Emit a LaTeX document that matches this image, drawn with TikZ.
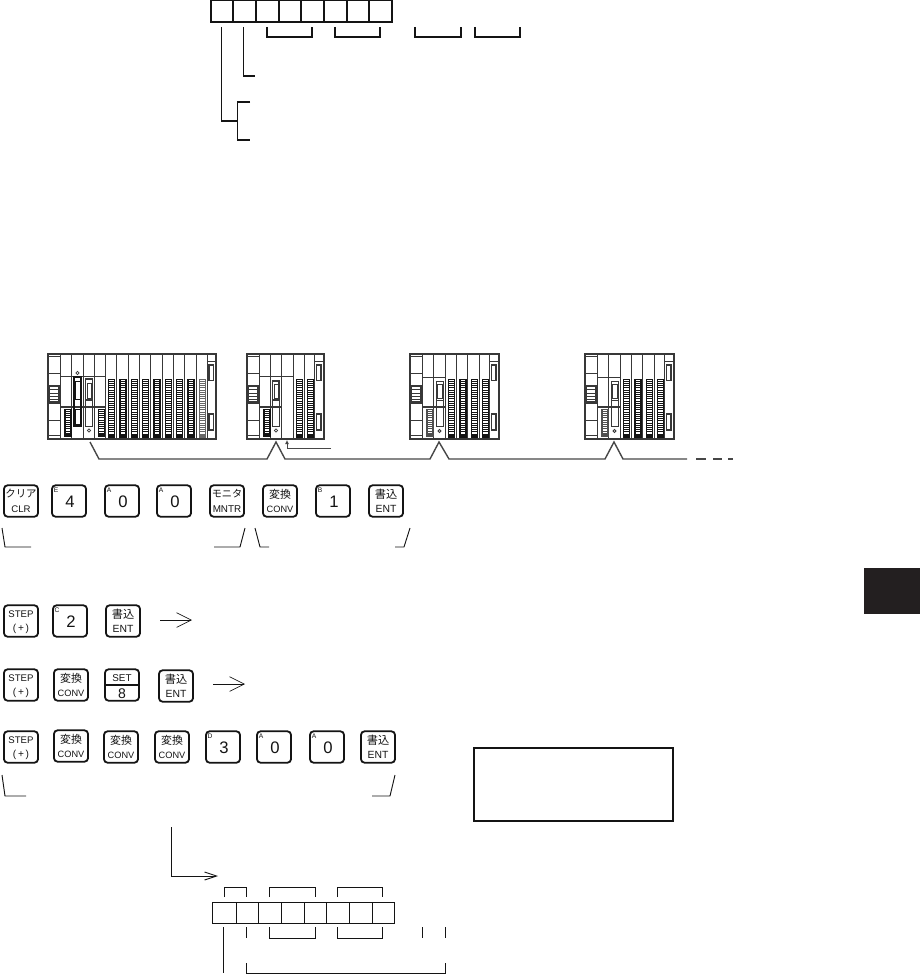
\documentclass[tikz,border=0pt]{standalone}
\usepackage{fontspec}
\usetikzlibrary{arrows.meta,calc}
\setmainfont{Liberation Sans}
\newfontfamily\jpfont{Noto Sans CJK JP}
\definecolor{ink}{gray}{0.08}
\definecolor{wire}{gray}{0.28}
\definecolor{tabcol}{HTML}{231F20}
\tikzset{
  line/.style={draw=ink,line width=0.85pt},
  thin line/.style={draw=ink,line width=0.7pt},
  keycap/.style={draw=ink,line width=1.35pt,rounded corners=2.6pt,minimum width=25.5pt,minimum height=23.5pt,inner sep=0pt,fill=white},
  keytxt/.style={inner sep=0pt,text=ink},
  rackln/.style={draw=ink!85,line width=0.6pt},
  wireln/.style={draw=wire,line width=1.05pt},
}
% two-line key: name, x, y, top text, bottom text
\newcommand{\keytwo}[5]{%
  \node[keycap] (#1) at (#2,#3) {};
  \node[keytxt] (#1t) at ($(#2,#3)+(0,-7)$) {#4};
  \node[keytxt] (#1b) at ($(#2,#3)+(0,8)$) {#5};
}
% digit key: name, x, y, corner letter, digit
\newcommand{\keydig}[5]{%
  \node[keycap] (#1) at (#2,#3) {};
  \node[keytxt,font=\fontsize{5}{6}\selectfont] (#1c) at ($(#2,#3)+(-13,-11)$) {#4};
  \node[keytxt,font=\fontsize{12.5}{13}\selectfont] (#1d) at ($(#2,#3)+(1,1)$) {#5};
}
\newcommand{\kclr}{{\jpfont\fontsize{7.8}{8}\selectfont クリア}}
\newcommand{\kmon}{{\jpfont\fontsize{7.6}{8}\selectfont モニタ}}
\newcommand{\kcnv}{{\jpfont\fontsize{8.2}{8}\selectfont 変換}}
\newcommand{\kwrt}{{\jpfont\fontsize{8.4}{8}\selectfont 書込}}
\newcommand{\lclr}{{\fontsize{7.2}{8}\selectfont CLR}}
\newcommand{\lmon}{{\fontsize{7.4}{8}\selectfont MNTR}}
\newcommand{\lcnv}{{\fontsize{6.9}{8}\selectfont CONV}}
\newcommand{\lent}{{\fontsize{7.8}{8}\selectfont ENT}}
\newcommand{\lstp}{{\fontsize{7.2}{8}\selectfont STEP}}
\newcommand{\lplus}{{\fontsize{7.6}{8}\selectfont (\,+\,)}}
\newcommand{\stepkey}[3]{\keytwo{#1}{#2}{#3}{\lstp}{\lplus}}
\newcommand{\cnvkey}[3]{\keytwo{#1}{#2}{#3}{\kcnv}{\lcnv}}
\newcommand{\entkey}[3]{\keytwo{#1}{#2}{#3}{\kwrt}{\lent}}
% comb terminal at local x, from y1 to y2
\newcommand{\comb}[4][ink]{%
  \draw[#1,line width=0.5pt] (#2,#3) rectangle (#2+6.5,#4);
  \draw[#1,line width=1pt] (#2+0.4,#3) -- (#2+0.4,#4);
  \draw[#1,line width=0.7pt] (#2+6.2,#3) -- (#2+6.2,#4);
  \pgfmathsetmacro{\ys}{#3+2.2}
  \pgfmathsetmacro{\yn}{#3+4.4}
  \foreach \yy in {\ys,\yn,...,#4} {\draw[#1,line width=0.7pt] (#2,\yy) -- (#2+6.5,\yy);}
  \fill[#1] (#2+1,#4-3.5) rectangle (#2+6.5,#4);
}
% rack frame: width, left block width, list of slot boundaries
\newcommand{\rackframe}[3]{%
  \draw[rackln,line width=0.85pt] (0,0) rectangle (#1,85);
  \draw[rackln] (#2,0) -- (#2,85);
  \draw[rackln] (0,2) -- (#2,2) (0,19) -- (#2,19) (0,49) -- (#2,49) (0,66) -- (#2,66) (0,81) -- (#2,81);
  \draw[rackln,line width=1.1pt] (1,32) rectangle (#2-1,48);
  \foreach \yy in {35.5,39,42.5,45.5} {\draw[rackln] (1,\yy) -- (#2-1,\yy);}
  \foreach \xx in {#3} {\draw[rackln] (\xx,0) -- (\xx,85);}
}
\newcommand{\rackright}[1]{%
  \draw[rackln] (#1,7.5) -- (#1+8,7.5);
  \draw[rackln,line width=0.85pt] (#1+2,11) rectangle (#1+6.5,26.5);
  \draw[rackln,line width=0.85pt] (#1+2,60) rectangle (#1+6.5,76);
}
% small rack: left block + CPU slot + link slot + 4 I/O
\newcommand{\smallrack}[2]{%
  \begin{scope}[shift={(#1,#2)}]
    \rackframe{89}{12}{12,23.5,35,46,57.5,69,79.5}
    \rackright{79.5}
    \draw[rackln] (12,23) -- (35,23);
    \draw[rackln,line width=0.9pt] (12,53) -- (35,53);
    \comb[ink!75]{16.5}{55}{82}
    \draw[rackln] (26,27) rectangle (33,46);
    \draw[rackln] (27,30) rectangle (32,44);
    \draw[rackln] (26,46) rectangle (33,72);
    \draw[rackln] (29.5,77) circle (1.5);
    \comb{38}{25}{83}
    \comb{49.5}{25}{83}
    \comb{61}{25}{83}
    \comb{72}{25}{83}
  \end{scope}%
}
\begin{document}
\begin{tikzpicture}[x=0.75pt,y=-0.75pt]
\useasboundingbox (0,0) rectangle (920,974);
%
% ---- top register ----
\foreach \a/\b in {211/233,233/256,256/279,279/301,301/324,324/347,347/369,369/392}
  {\draw[line] (\a,0.5) rectangle (\b,22);}
\foreach \a/\b in {267/312,335/380,415/461,475/520}
  {\draw[line] (\a,27) -- (\a,37) -- (\b,37) -- (\b,27);}
\draw[line] (243.5,27) -- (243.5,76) -- (255,76);
\draw[line] (221.5,27) -- (221.5,121) -- (237.5,121);
\draw[line] (250,102) -- (237.5,102) -- (237.5,140) -- (250,140);
%
% ---- racks ----
\begin{scope}[shift={(48,354)}]
  \rackframe{168}{12}{12,23.5,35,46,57,68.5,80,91,102.5,114,125,136.5,148,159}
  \rackright{159}
  \draw[rackln] (12,22.5) -- (57,22.5);
  \draw[rackln,line width=1pt] (12,53) -- (57,53);
  \comb{16.5}{55}{82}
  \comb{50}{55}{82}
  \draw[ink,line width=0.9pt] (26,23) rectangle (33,72);
  \draw[ink,line width=0.5pt] (27,27) rectangle (32,45);
  \draw[ink,line width=0.5pt] (27,55) rectangle (32,70);
  \draw[rackln] (29.5,19) circle (1.6);
  \draw[rackln,line width=0.85pt] (37.5,25) rectangle (44.5,46);
  \draw[rackln] (39,29) rectangle (43,44);
  \draw[rackln] (37.5,46) rectangle (44.5,72);
  \draw[rackln] (41,76.5) circle (1.6);
  \foreach \xx in {60,71.5,83,94,105.5,117,128,139.5} {\comb{\xx}{25}{83}}
  \comb[ink!65]{151}{25}{83}
\end{scope}
\begin{scope}[shift={(247,354)}]
  \rackframe{77}{12}{12,23,34.5,46,57,67.5}
  \rackright{67.5}
  \draw[rackln] (12,22.5) -- (46,22.5);
  \draw[rackln,line width=0.9pt] (12,53) -- (34.5,53);
  \comb{16.5}{55}{82}
  \draw[rackln,line width=0.85pt] (25.5,27) rectangle (32,46);
  \draw[rackln] (27,30) rectangle (31,44);
  \draw[rackln] (25.5,46) rectangle (32,72);
  \draw[rackln] (29,76.5) circle (1.6);
  \comb{49}{25}{83}
  \comb{60}{25}{83}
\end{scope}
\smallrack{410}{354}
\smallrack{585}{354}
%
% ---- network ----
\coordinate (n0) at (90,442);
\coordinate (n1) at (687,459);
\draw[wireln] (n0) -- (99,459) -- (267,459) -- (276,442) -- (285,459) -- (430,459) -- (439,442) -- (449,459) -- (605,459) -- (614,442) -- (623,459) -- (n1);
\draw[wireln] (696,459) -- (706,459) (713,459) -- (722,459) (728,459) -- (733,459);
\coordinate (a0) at (331,448);
\coordinate (a1) at (287,440);
\draw[draw=wire,line width=0.6pt,-{Latex[length=3pt,width=3pt]}] (a0) -- (287,448) -- (a1);
%
% ---- key rows ----
\keytwo{k1}{21}{501}{\kclr}{\lclr}
\keydig{k2}{69}{501}{E}{4}
\keydig{k3}{122}{501}{A}{0}
\keydig{k4}{174}{501}{A}{0}
\keytwo{k5}{227}{501}{\kmon}{\lmon}
\cnvkey{k6}{280}{501}
\keydig{k7}{333}{501}{B}{1}
\entkey{k8}{386}{501}
\draw[thin line] (2,528) -- (5,547) -- (31,547);
\draw[thin line] (214,547) -- (240,547) -- (245,528);
\draw[thin line] (255,528) -- (260,547) -- (269,547);
\draw[thin line] (395,547) -- (404,547) -- (410,528);
%
\stepkey{r2a}{21}{621}
\keydig{r2b}{70}{621}{C}{2}
\entkey{r2c}{123}{621}
\coordinate (r2s) at (160,620);
\coordinate (r2e) at (192,620);
\draw[draw=ink,line width=0.5pt,-{Straight Barb[length=11pt,width=11pt]}] (r2s) -- (r2e);
%
\stepkey{r3a}{21}{685}
\cnvkey{r3b}{71}{685}
\node[keycap] (r3c) at (122,685) {};
\draw[draw=ink,line width=1.3pt] (r3c.west) -- (r3c.east);
\node[keytxt,font=\fontsize{7.4}{8}\selectfont] (r3ct) at (122,678) {SET};
\node[keytxt,font=\fontsize{10.5}{11}\selectfont] (r3cb) at (122,693.5) {8};
\entkey{r3d}{176}{686}
\coordinate (r3s) at (213,684);
\coordinate (r3e) at (245,684);
\draw[draw=ink,line width=0.5pt,-{Straight Barb[length=11pt,width=11pt]}] (r3s) -- (r3e);
%
\stepkey{r4a}{21}{747}
\cnvkey{r4b}{71}{746}
\cnvkey{r4c}{121}{747}
\cnvkey{r4d}{172}{747}
\keydig{r4e}{223}{747}{D}{3}
\keydig{r4f}{274}{747}{A}{0}
\keydig{r4g}{327}{747}{A}{0}
\entkey{r4h}{378}{747}
\draw[thin line] (2,775) -- (5,796) -- (26,796);
\draw[thin line] (372,796) -- (390,796) -- (395,775);
%
% ---- note box and tab ----
\draw[draw=ink,line width=1.6pt] (474,748) rectangle (673,821);
\fill[tabcol] (864,568) rectangle (920,614);
%
% ---- lower register ----
\coordinate (b0) at (171,827);
\coordinate (b1) at (218,876);
\draw[draw=ink,line width=0.7pt,-{Straight Barb[length=9pt,width=6pt]}] (b0) -- (171,876) -- (b1);
\draw[thin line] (224,897) -- (224,887) -- (246,887) -- (246,897);
\draw[thin line] (269,897) -- (269,887) -- (315,887) -- (315,897);
\draw[thin line] (337,897) -- (337,887) -- (382,887) -- (382,897);
\foreach \a/\b in {212/236,236/258,258/281,281/304,304/326,326/349,349/372,372/394}
  {\draw[thin line] (\a,902) rectangle (\b,923);}
\draw[thin line] (223,927) -- (223,973);
\draw[thin line] (246,927) -- (246,938);
\draw[thin line] (269,927) -- (269,938) -- (315,938) -- (315,927);
\draw[thin line] (337,927) -- (337,938) -- (382,938) -- (382,927);
\draw[thin line] (422,927) -- (422,938);
\draw[thin line] (445,927) -- (445,938);
\draw[thin line] (246,963) -- (246,973) -- (445,973) -- (445,963);
\end{tikzpicture}
\end{document}
